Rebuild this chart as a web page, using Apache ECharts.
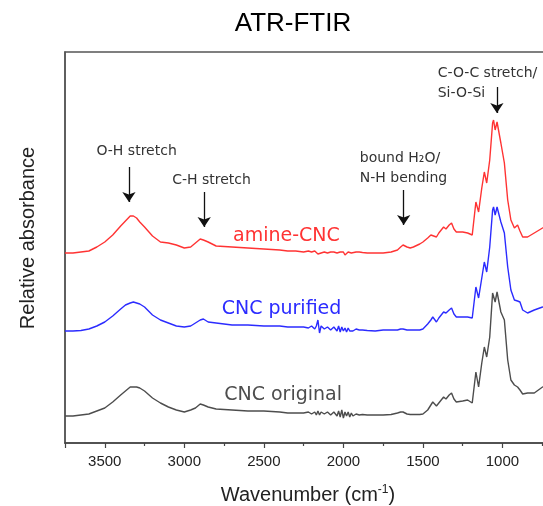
<!DOCTYPE html>
<html>
<head>
<meta charset="utf-8">
<script src="https://cdn.jsdelivr.net/npm/echarts@6/dist/echarts.min.js"></script>
<style>
  html, body { margin: 0; padding: 0; background: #fff; }
  #chart { width: 543px; height: 506px; }
</style>
</head>
<body>
<div id="chart"></div>
<script>
// Wavenumber grid (cm-1), shared by the three spectra
const wavenumbers = [
  3750, 3700, 3650, 3600, 3550, 3500, 3450, 3400, 3370, 3340,
  3320, 3300, 3280, 3250, 3200, 3150, 3100, 3050, 3000, 2960,
  2930, 2900, 2880, 2850, 2800, 2700, 2600, 2500, 2400, 2350,
  2300, 2250, 2220, 2200, 2180, 2170, 2160, 2150, 2140, 2120,
  2100, 2080, 2060, 2040, 2030, 2020, 2010, 2000, 1990, 1980,
  1970, 1960, 1950, 1940, 1920, 1900, 1880, 1850, 1800, 1750,
  1700, 1660, 1640, 1625, 1600, 1580, 1560, 1520, 1500, 1470,
  1450, 1438, 1415, 1400, 1370, 1355, 1335, 1320, 1305, 1290,
  1250, 1219, 1190, 1167, 1150, 1130, 1114, 1099, 1080, 1062,
  1056, 1046, 1034, 1010, 988, 967, 947, 925, 905, 890,
  873, 842, 800, 748, 700, 650
];

// Relative absorbance, spectra stacked with a vertical offset
const cncOriginal = [
  0.27, 0.27, 0.28, 0.29, 0.32, 0.35, 0.41, 0.48, 0.52, 0.56,
  0.56, 0.56, 0.55, 0.52, 0.45, 0.40, 0.36, 0.33, 0.31, 0.33,
  0.35, 0.39, 0.38, 0.36, 0.34, 0.33, 0.32, 0.32, 0.31, 0.30,
  0.30, 0.30, 0.31, 0.29, 0.31, 0.28, 0.32, 0.28, 0.31, 0.29,
  0.31, 0.28, 0.31, 0.27, 0.32, 0.26, 0.33, 0.25, 0.31, 0.27,
  0.31, 0.26, 0.30, 0.27, 0.29, 0.28, 0.285, 0.28, 0.28, 0.28,
  0.285, 0.30, 0.31, 0.31, 0.29, 0.285, 0.285, 0.285, 0.29, 0.33,
  0.38, 0.41, 0.37, 0.40, 0.46, 0.44, 0.48, 0.50, 0.44, 0.41,
  0.42, 0.43, 0.40, 0.71, 0.56, 0.80, 0.96, 0.86, 1.06, 1.50,
  1.51, 1.41, 1.51, 1.31, 1.23, 0.83, 0.63, 0.58, 0.56, 0.53,
  0.49, 0.50, 0.50, 0.56, 0.60, 0.63
];

const cncPurified = [
  1.12, 1.12, 1.125, 1.14, 1.17, 1.21, 1.27, 1.34, 1.38, 1.40,
  1.41, 1.40, 1.39, 1.36, 1.28, 1.23, 1.20, 1.17, 1.16, 1.17,
  1.20, 1.23, 1.24, 1.21, 1.20, 1.18, 1.18, 1.17, 1.17, 1.16,
  1.16, 1.16, 1.15, 1.17, 1.14, 1.17, 1.23, 1.10, 1.17, 1.14,
  1.16, 1.13, 1.16, 1.12, 1.17, 1.11, 1.16, 1.12, 1.15, 1.11,
  1.15, 1.12, 1.14, 1.12, 1.14, 1.13, 1.13, 1.125, 1.12, 1.13,
  1.13, 1.13, 1.14, 1.14, 1.13, 1.13, 1.13, 1.13, 1.14, 1.19,
  1.23, 1.26, 1.21, 1.25, 1.31, 1.30, 1.33, 1.35, 1.29, 1.26,
  1.26, 1.26, 1.25, 1.56, 1.45, 1.65, 1.81, 1.71, 1.96, 2.33,
  2.36, 2.28, 2.36, 2.21, 2.10, 1.76, 1.53, 1.43, 1.42, 1.41,
  1.33, 1.30, 1.33, 1.36, 1.39, 1.41
];

const amineCnc = [
  1.90, 1.90, 1.91, 1.92, 1.96, 2.01, 2.08, 2.17, 2.22, 2.27,
  2.27, 2.25, 2.21, 2.16, 2.07, 2.01, 2.00, 1.98, 1.95, 1.96,
  2.00, 2.04, 2.03, 2.01, 1.97, 1.96, 1.95, 1.94, 1.93, 1.92,
  1.92, 1.91, 1.92, 1.91, 1.92, 1.90, 1.89, 1.91, 1.90, 1.91,
  1.90, 1.91, 1.91, 1.90, 1.91, 1.91, 1.89, 1.91, 1.88, 1.90,
  1.91, 1.91, 1.90, 1.91, 1.91, 1.91, 1.905, 1.90, 1.90, 1.90,
  1.91, 1.93, 1.96, 1.98, 1.96, 1.95, 1.96, 1.99, 2.01, 2.05,
  2.08, 2.10, 2.06, 2.10, 2.16, 2.14, 2.18, 2.20, 2.14, 2.11,
  2.11, 2.10, 2.08, 2.41, 2.31, 2.55, 2.71, 2.60, 2.83, 3.20,
  3.23, 3.13, 3.21, 3.00, 2.80, 2.43, 2.23, 2.15, 2.18, 2.12,
  2.06, 2.06, 2.10, 2.15, 2.19, 2.22
];

// Band assignments: [wavenumber, arrow start, arrow tip]
const bandArrows = [
  [3348, 2.76, 2.41],
  [2875, 2.51, 2.16],
  [1621, 2.53, 2.18],
  [1035, 3.56, 3.30]
];

// Band annotation texts: [text, wavenumber, height, alignment]
const bandTexts = [
  ['O-H stretch', 3300, 2.92, 'center'],
  ['C-H stretch', 2829, 2.63, 'center'],
  ['bound H\u2082O/', 1897, 2.85, 'left'],
  ['N-H bending', 1897, 2.65, 'left'],
  ['C-O-C stretch/', 1407, 3.70, 'left'],
  ['Si-O-Si', 1407, 3.50, 'left']
];

// Spectrum names drawn next to each trace: [text, wavenumber, height]
const traceLabels = [
  ['amine-CNC', 2358, 2.07],
  ['CNC purified', 2389, 1.34],
  ['CNC original', 2379, 0.48]
];

const colors = { original: '#4d4d4d', purified: '#2b2bff', amine: '#ff3333' };

const chart = echarts.init(document.getElementById('chart'));

const toPairs = (vals) => wavenumbers.map((w, i) => [w, vals[i]]);

const labelFont = 'DejaVu Sans, Verdana, sans-serif';

const option = {
  animation: false,
  backgroundColor: '#ffffff',
  grid: {
    left: 65, right: -39, top: 52, bottom: 63,
    outerBoundsMode: 'none',
    containLabel: false,
    show: true, borderColor: '#555', borderWidth: 1.5
  },
  xAxis: {
    type: 'value',
    inverse: true,
    min: 500,
    max: 3750,
    interval: 500,
    splitLine: { show: false },
    axisLine: { lineStyle: { color: '#444', width: 1.5 } },
    axisTick: { show: true, length: 5, lineStyle: { color: '#444', width: 1.2 } },
    minorTick: { show: true, splitNumber: 2, length: 3, lineStyle: { color: '#444', width: 1.2 } },
    axisLabel: {
      color: '#222', fontSize: 15, margin: 11,
      fontFamily: 'Liberation Sans, Arial, sans-serif',
      showMaxLabel: false,
      formatter: (v) => String(v)
    }
  },
  yAxis: {
    type: 'value',
    min: 0,
    max: 3.91,
    splitLine: { show: false },
    axisTick: { show: false },
    axisLabel: { show: false },
    axisLine: { show: true, lineStyle: { color: '#555', width: 1.5 } }
  },
  series: [
    {
      name: 'CNC original', type: 'line', data: toPairs(cncOriginal),
      showSymbol: false, lineStyle: { color: colors.original, width: 1.4 },
      itemStyle: { color: colors.original }
    },
    {
      name: 'CNC purified', type: 'line', data: toPairs(cncPurified),
      showSymbol: false, lineStyle: { color: colors.purified, width: 1.4 },
      itemStyle: { color: colors.purified }
    },
    {
      name: 'amine-CNC', type: 'line', data: toPairs(amineCnc),
      showSymbol: false, lineStyle: { color: colors.amine, width: 1.4 },
      itemStyle: { color: colors.amine },
      markLine: {
        silent: true,
        symbol: ['none', 'arrow'],
        symbolSize: 10,
        label: { show: false },
        lineStyle: { color: '#111', width: 1.3, type: 'solid' },
        data: bandArrows.map(([w, y0, y1]) => [{ coord: [w, y0] }, { coord: [w, y1] }])
      },
      markPoint: {
        silent: true,
        symbol: 'circle',
        symbolSize: 0,
        data: bandTexts.map(([t, w, y, al]) => ({
          coord: [w, y],
          label: {
            show: true, position: 'inside', formatter: t, align: al,
            color: '#333', fontSize: 14, fontFamily: labelFont
          }
        })).concat(traceLabels.map(([t, w, y], i) => ({
          coord: [w, y],
          label: {
            show: true, position: 'inside', formatter: t, align: 'center',
            color: [colors.amine, colors.purified, colors.original][i],
            fontSize: 19, fontFamily: labelFont
          }
        })))
      }
    }
  ],
  graphic: [
    {
      type: 'text', x: 293, y: 24,
      style: {
        text: 'ATR-FTIR', fill: '#000', fontSize: 26,
        fontFamily: 'Liberation Sans, Arial, sans-serif',
        align: 'center', verticalAlign: 'middle'
      }
    },
    {
      type: 'text', x: 28, y: 238, rotation: Math.PI / 2,
      style: {
        text: 'Relative absorbance', fill: '#222', fontSize: 20,
        fontFamily: 'Liberation Sans, Arial, sans-serif',
        align: 'center', verticalAlign: 'middle'
      }
    },
    {
      type: 'text', x: 308, y: 495,
      style: {
        text: 'Wavenumber (cm{sup|-1})', fill: '#222', fontSize: 20,
        fontFamily: 'Liberation Sans, Arial, sans-serif',
        align: 'center', verticalAlign: 'middle',
        rich: {
          sup: {
            fontSize: 12, fill: '#222',
            fontFamily: 'Liberation Sans, Arial, sans-serif',
            verticalAlign: 'top', padding: [0, 0, 10, 0]
          }
        }
      }
    }
  ]
};

chart.setOption(option);
</script>
</body>
</html>
